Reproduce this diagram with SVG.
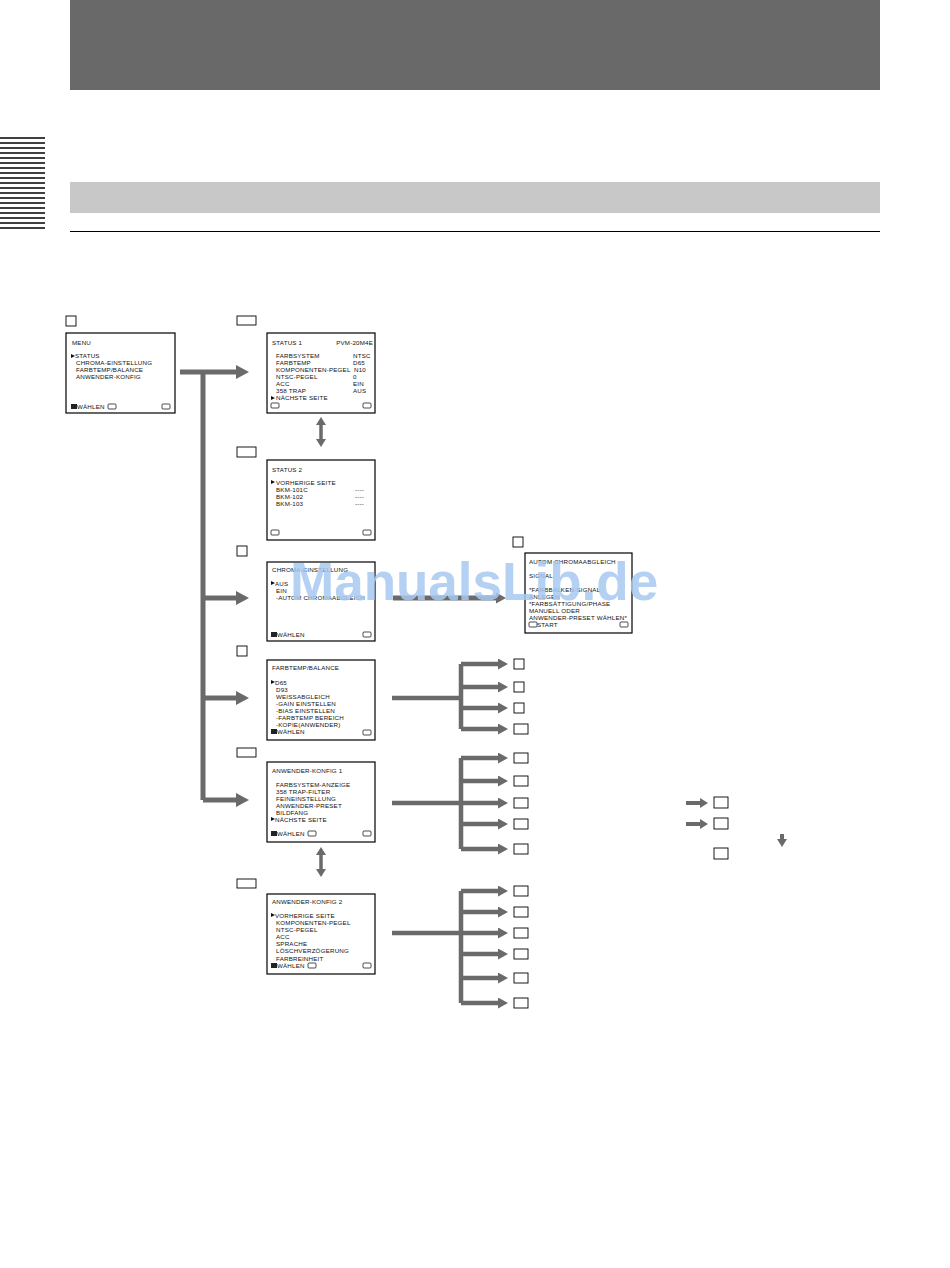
<svg xmlns="http://www.w3.org/2000/svg" width="950" height="1268" viewBox="0 0 950 1268">
<style>
.t{font-family:"Liberation Sans",Arial,sans-serif;font-size:6.2px;letter-spacing:0.2px;fill:#111}
.box{fill:#fff;stroke:#000;stroke-width:1.2}
.lab{fill:#fff;stroke:#000;stroke-width:0.9}
.ic{fill:#fff;stroke:#000;stroke-width:0.7}
.ptr{fill:#111}
.sel{fill:#222}
.c{fill:none;stroke:#6a6a6a}
.big{stroke-width:5}
.br{stroke-width:4.5}
.wm{font-family:"Liberation Sans",Arial,sans-serif;font-size:53px;font-weight:bold;fill:#a8c8f0;opacity:0.85}
</style>
<defs>
<marker id="hb" markerUnits="userSpaceOnUse" markerWidth="14" markerHeight="14" refX="0" refY="7" orient="auto"><path d="M0,0 L13,7 L0,14 z" fill="#6a6a6a"/></marker>
<marker id="hs" markerUnits="userSpaceOnUse" markerWidth="11" markerHeight="11" refX="0" refY="5.5" orient="auto"><path d="M0,0 L10,5.5 L0,11 z" fill="#6a6a6a"/></marker>
<marker id="hd" markerUnits="userSpaceOnUse" markerWidth="10" markerHeight="10" refX="0" refY="5" orient="auto-start-reverse"><path d="M0,0 L8,5 L0,10 z" fill="#6a6a6a"/></marker>
</defs>
<rect width="950" height="1268" fill="#fff"/>
<g id="page">
<rect x="70" y="0" width="810" height="90" fill="#696969"/>
<rect x="70" y="182" width="810" height="31" fill="#c8c8c8"/>
<line x1="70" y1="231.5" x2="880" y2="231.5" stroke="#000" stroke-width="1"/>
<g stroke="#000" stroke-width="1.3">
<line x1="0" y1="138" x2="45" y2="138"/><line x1="0" y1="143" x2="45" y2="143"/><line x1="0" y1="148" x2="45" y2="148"/><line x1="0" y1="153" x2="45" y2="153"/><line x1="0" y1="158" x2="45" y2="158"/><line x1="0" y1="163" x2="45" y2="163"/><line x1="0" y1="168" x2="45" y2="168"/><line x1="0" y1="173" x2="45" y2="173"/><line x1="0" y1="178" x2="45" y2="178"/><line x1="0" y1="183" x2="45" y2="183"/><line x1="0" y1="188" x2="45" y2="188"/><line x1="0" y1="193" x2="45" y2="193"/><line x1="0" y1="198" x2="45" y2="198"/><line x1="0" y1="203" x2="45" y2="203"/><line x1="0" y1="208" x2="45" y2="208"/><line x1="0" y1="213" x2="45" y2="213"/><line x1="0" y1="218" x2="45" y2="218"/><line x1="0" y1="223" x2="45" y2="223"/><line x1="0" y1="228" x2="45" y2="228"/>
</g>
</g>

<g id="connectors">
<path class="c big" d="M180,372 H236" marker-end="url(#hb)"/>
<path class="c big" d="M203,372 V800"/>
<path class="c big" d="M203,598 H236" marker-end="url(#hb)"/>
<path class="c big" d="M203,698 H236" marker-end="url(#hb)"/>
<path class="c big" d="M203,800 H236" marker-end="url(#hb)"/>
<path class="c" stroke-width="3.5" d="M321,425 V439" marker-start="url(#hd)" marker-end="url(#hd)"/>
<path class="c" stroke-width="3.5" d="M321,855 V869" marker-start="url(#hd)" marker-end="url(#hd)"/>
<path class="c big" d="M393,598 H496" marker-end="url(#hs)"/>
<path class="c br" d="M392,698 H461 M461,664 V729"/>
<path class="c br" d="M461,664 H498" marker-end="url(#hs)"/>
<path class="c br" d="M461,687 H498" marker-end="url(#hs)"/>
<path class="c br" d="M461,708 H498" marker-end="url(#hs)"/>
<path class="c br" d="M461,729 H498" marker-end="url(#hs)"/>
<path class="c br" d="M392,803 H461 M461,758 V849"/>
<path class="c br" d="M461,758 H498" marker-end="url(#hs)"/>
<path class="c br" d="M461,781 H498" marker-end="url(#hs)"/>
<path class="c br" d="M461,803 H498" marker-end="url(#hs)"/>
<path class="c br" d="M461,824 H498" marker-end="url(#hs)"/>
<path class="c br" d="M461,849 H498" marker-end="url(#hs)"/>
<path class="c br" d="M392,933 H461 M461,891 V1003"/>
<path class="c br" d="M461,891 H498" marker-end="url(#hs)"/>
<path class="c br" d="M461,912 H498" marker-end="url(#hs)"/>
<path class="c br" d="M461,933 H498" marker-end="url(#hs)"/>
<path class="c br" d="M461,954 H498" marker-end="url(#hs)"/>
<path class="c br" d="M461,978 H498" marker-end="url(#hs)"/>
<path class="c br" d="M461,1003 H498" marker-end="url(#hs)"/>
<path class="c" stroke-width="4" d="M686,803 H700" marker-end="url(#hd)"/>
<path class="c" stroke-width="4" d="M686,824 H700" marker-end="url(#hd)"/>
<path class="c" stroke-width="4" d="M782,834 V839" marker-end="url(#hd)"/>
</g>

<g id="n-menu">
<rect class="lab" x="66" y="316" width="10" height="10"/>
<rect class="box" x="66" y="333" width="109" height="80"/>
<text class="t" x="72" y="345">MENU</text>
<path class="ptr" d="M71,354 L75,356 L71,358 z"/>
<text class="t" x="75" y="358">STATUS</text>
<text class="t" x="76" y="365">CHROMA-EINSTELLUNG</text>
<text class="t" x="76" y="372">FARBTEMP/BALANCE</text>
<text class="t" x="76" y="379">ANWENDER-KONFIG</text>
<rect class="sel" x="71" y="404" width="6" height="5"/>
<text class="t" x="77" y="409">WÄHLEN</text>
<rect class="ic" x="108" y="404" width="8" height="5" rx="1"/>
<rect class="ic" x="162" y="404" width="8" height="5" rx="1"/>
</g>

<g id="n-status1">
<rect class="lab" x="237" y="316" width="19" height="9"/>
<rect class="box" x="267" y="333" width="108" height="80"/>
<text class="t" x="272" y="345">STATUS  1</text>
<text class="t" x="373" y="345" text-anchor="end">PVM-20M4E</text>
<text class="t" x="276" y="358">FARBSYSTEM</text><text class="t" x="353" y="358">NTSC</text>
<text class="t" x="276" y="365">FARBTEMP</text><text class="t" x="353" y="365">D65</text>
<text class="t" x="276" y="372">KOMPONENTEN-PEGEL</text><text class="t" x="354" y="372">N10</text>
<text class="t" x="276" y="379">NTSC-PEGEL</text><text class="t" x="353" y="379">0</text>
<text class="t" x="276" y="386">ACC</text><text class="t" x="353" y="386">EIN</text>
<text class="t" x="276" y="393">358  TRAP</text><text class="t" x="353" y="393">AUS</text>
<path class="ptr" d="M271,396 L275,398 L271,400 z"/>
<text class="t" x="276" y="400">NÄCHSTE  SEITE</text>
<rect class="ic" x="271" y="403" width="8" height="5" rx="1"/>
<rect class="ic" x="363" y="403" width="8" height="5" rx="1"/>
</g>

<g id="n-status2">
<rect class="lab" x="237" y="447" width="19" height="10"/>
<rect class="box" x="267" y="460" width="108" height="80"/>
<text class="t" x="272" y="472">STATUS  2</text>
<path class="ptr" d="M271,480 L275,482 L271,484 z"/>
<text class="t" x="276" y="485">VORHERIGE  SEITE</text>
<text class="t" x="276" y="492">BKM-101C</text><text class="t" x="355" y="492">----</text>
<text class="t" x="276" y="499">BKM-102</text><text class="t" x="355" y="499">----</text>
<text class="t" x="276" y="506">BKM-103</text><text class="t" x="355" y="506">----</text>
<rect class="ic" x="271" y="530" width="8" height="5" rx="1"/>
<rect class="ic" x="363" y="530" width="8" height="5" rx="1"/>
</g>

<g id="n-chroma">
<rect class="lab" x="237" y="546" width="10" height="10"/>
<rect class="box" x="267" y="562" width="108" height="79"/>
<text class="t" x="272" y="572">CHROMA-EINSTELLUNG</text>
<path class="ptr" d="M271,581 L275,583 L271,585 z"/>
<text class="t" x="275" y="586">AUS</text>
<text class="t" x="276" y="593">EIN</text>
<text class="t" x="276" y="600">-AUTOM CHROMAABGLEICH</text>
<rect class="sel" x="271" y="632" width="6" height="5"/>
<text class="t" x="277" y="637">WÄHLEN</text>
<rect class="ic" x="363" y="632" width="8" height="5" rx="1"/>
</g>

<g id="n-auto">
<rect class="lab" x="513" y="537" width="10" height="10"/>
<rect class="box" x="525" y="553" width="107" height="80"/>
<text class="t" x="529" y="564">AUTOM CHROMAABGLEICH</text>
<text class="t" x="529" y="578">SIGNAL</text>
<text class="t" x="529" y="592">*FARBBALKEN-SIGNAL</text>
<text class="t" x="529" y="599">ANLEGEN</text>
<text class="t" x="529" y="606">*FARBSÄTTIGUNG/PHASE</text>
<text class="t" x="529" y="613">MANUELL ODER</text>
<text class="t" x="529" y="620">ANWENDER-PRESET WÄHLEN*</text>
<rect class="ic" x="529" y="622" width="8" height="5" rx="1"/>
<text class="t" x="537" y="627">START</text>
<rect class="ic" x="620" y="622" width="8" height="5" rx="1"/>
</g>

<g id="n-farbtemp">
<rect class="lab" x="237" y="646" width="10" height="10"/>
<rect class="box" x="267" y="660" width="108" height="80"/>
<text class="t" x="272" y="670">FARBTEMP/BALANCE</text>
<path class="ptr" d="M271,680 L275,682 L271,684 z"/>
<text class="t" x="275" y="685">D65</text>
<text class="t" x="276" y="692">D93</text>
<text class="t" x="276" y="699">WEISSABGLEICH</text>
<text class="t" x="276" y="706">-GAIN EINSTELLEN</text>
<text class="t" x="276" y="713">-BIAS EINSTELLEN</text>
<text class="t" x="276" y="720">-FARBTEMP BEREICH</text>
<text class="t" x="276" y="727">-KOPIE(ANWENDER)</text>
<rect class="sel" x="271" y="729" width="6" height="5"/>
<text class="t" x="277" y="734">WÄHLEN</text>
<rect class="ic" x="363" y="730" width="8" height="5" rx="1"/>
</g>

<g id="n-anw1">
<rect class="lab" x="237" y="748" width="19" height="9"/>
<rect class="box" x="267" y="762" width="108" height="80"/>
<text class="t" x="272" y="773">ANWENDER-KONFIG  1</text>
<text class="t" x="276" y="787">FARBSYSTEM-ANZEIGE</text>
<text class="t" x="276" y="794">358  TRAP-FILTER</text>
<text class="t" x="276" y="801">FEINEINSTELLUNG</text>
<text class="t" x="276" y="808">ANWENDER-PRESET</text>
<text class="t" x="276" y="815">BILDFANG</text>
<path class="ptr" d="M271,817 L275,819 L271,821 z"/>
<text class="t" x="275" y="822">NÄCHSTE  SEITE</text>
<rect class="sel" x="271" y="831" width="6" height="5"/>
<text class="t" x="277" y="836">WÄHLEN</text>
<rect class="ic" x="308" y="831" width="8" height="5" rx="1"/>
<rect class="ic" x="363" y="831" width="8" height="5" rx="1"/>
</g>

<g id="n-anw2">
<rect class="lab" x="237" y="879" width="19" height="9"/>
<rect class="box" x="267" y="894" width="108" height="80"/>
<text class="t" x="272" y="904">ANWENDER-KONFIG  2</text>
<path class="ptr" d="M271,913 L275,915 L271,917 z"/>
<text class="t" x="275" y="918">VORHERIGE  SEITE</text>
<text class="t" x="276" y="925">KOMPONENTEN-PEGEL</text>
<text class="t" x="276" y="932">NTSC-PEGEL</text>
<text class="t" x="276" y="939">ACC</text>
<text class="t" x="276" y="946">SPRACHE</text>
<text class="t" x="276" y="953">LÖSCHVERZÖGERUNG</text>
<text class="t" x="276" y="961">FARBREINHEIT</text>
<rect class="sel" x="271" y="963" width="6" height="5"/>
<text class="t" x="277" y="968">WÄHLEN</text>
<rect class="ic" x="308" y="963" width="8" height="5" rx="1"/>
<rect class="ic" x="363" y="963" width="8" height="5" rx="1"/>
</g>

<g id="targets">
<rect class="lab" x="514" y="659" width="10" height="10"/>
<rect class="lab" x="514" y="682" width="10" height="10"/>
<rect class="lab" x="514" y="703" width="10" height="10"/>
<rect class="lab" x="514" y="724" width="14" height="10"/>
<rect class="lab" x="514" y="753" width="14" height="10"/>
<rect class="lab" x="514" y="776" width="14" height="10"/>
<rect class="lab" x="514" y="798" width="14" height="10"/>
<rect class="lab" x="514" y="819" width="14" height="10"/>
<rect class="lab" x="514" y="844" width="14" height="10"/>
<rect class="lab" x="514" y="886" width="14" height="10"/>
<rect class="lab" x="514" y="907" width="14" height="10"/>
<rect class="lab" x="514" y="928" width="14" height="10"/>
<rect class="lab" x="514" y="949" width="14" height="10"/>
<rect class="lab" x="514" y="973" width="14" height="10"/>
<rect class="lab" x="514" y="998" width="14" height="10"/>
<rect class="lab" x="714" y="797" width="14" height="11"/>
<rect class="lab" x="714" y="818" width="14" height="11"/>
<rect class="lab" x="714" y="848" width="14" height="11"/>
</g>

<text class="wm" x="290" y="600">ManualsLib.de</text>
</svg>
